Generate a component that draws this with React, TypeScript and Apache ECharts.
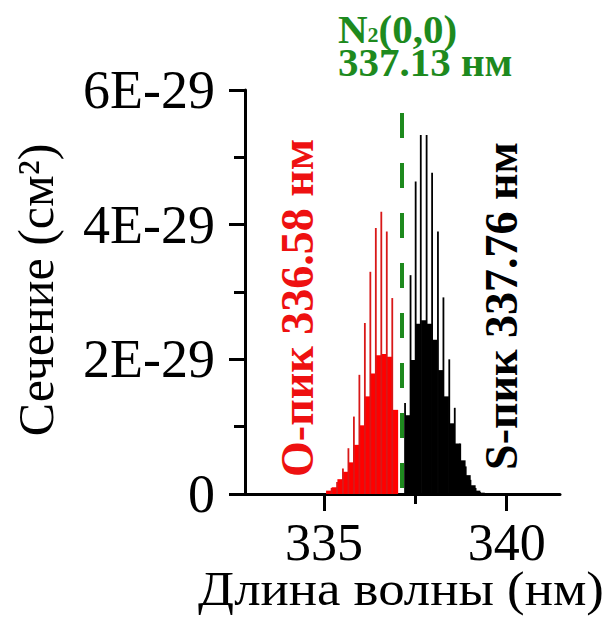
import React, { useEffect, useRef } from "react";
import * as echarts from "echarts";

// Rotational Raman lines of N2 around the 337.13 nm laser line.
// Intensities are in units of 1E-29 cm^2.

// O-branch: strong (even-J) lines
const O_STRONG_NM = [335.21, 335.36, 335.52, 335.67, 335.82, 335.97, 336.12, 336.27, 336.42, 336.57, 336.72, 336.87];
const O_STRONG_VAL = [0.09, 0.18, 0.38, 0.68, 1.15, 1.77, 2.54, 3.3, 3.95, 4.19, 3.9, 2.91];
// O-branch: weak (odd-J) lines
const O_WEAK_NM = [335.13, 335.285, 335.44, 335.595, 335.745, 335.895, 336.045, 336.195, 336.345, 336.495, 336.645, 336.795, 336.96];
const O_WEAK_VAL = [0.05, 0.1, 0.22, 0.33, 0.47, 0.73, 1.02, 1.45, 1.79, 2.06, 2.08, 2.04, 1.25];

// S-branch: strong lines
const S_STRONG_NM = [337.22, 337.37, 337.51, 337.65, 337.81, 337.96, 338.12, 338.27, 338.43, 338.58, 338.73, 338.88, 339.01, 339.15, 339.27];
const S_STRONG_VAL = [1.35, 3.25, 4.64, 5.33, 5.33, 4.77, 3.9, 2.92, 2.0, 1.28, 0.75, 0.41, 0.21, 0.09, 0.03];
// S-branch: weak lines
const S_WEAK_NM = [337.29, 337.44, 337.58, 337.73, 337.885, 338.04, 338.195, 338.35, 338.505, 338.655, 338.805, 338.945, 339.08, 339.21, 339.33];
const S_WEAK_VAL = [1.17, 1.99, 2.53, 2.58, 2.53, 2.29, 1.84, 1.45, 1.05, 0.75, 0.5, 0.28, 0.13, 0.05, 0.02];

// Laser line
const LASER_NM = 337.13;
const LASER_TOP = 5.66;

// Axes
const X_MIN = 332.84;
const X_MAX = 341.46;
const X_MAJOR = [335, 340];
const X_MINOR = [337.5];
const Y_MAX = 6;
const Y_STEP = 2;

const RED = "#ff0000";
const RED_LINE = "#d81818";
const GREEN = "#1e8a1e";
const SERIF = "'Liberation Serif', 'Times New Roman', serif";

function pairs(xs: number[], ys: number[], color: string) {
  return xs.map((x, i) => ({ value: [x, ys[i]], itemStyle: { color } }));
}

export default function App() {
  const ref = useRef<HTMLDivElement>(null);

  useEffect(() => {
    const chart = echarts.init(ref.current!, undefined, { renderer: "svg" });

    const option: any = {
      animation: false,
      backgroundColor: "#ffffff",
      grid: { left: 245, right: 45, top: 90, bottom: 129, containLabel: false },
      xAxis: [
        {
          type: "value",
          min: X_MIN,
          max: X_MAX,
          position: "bottom",
          axisLine: { show: true, onZero: false, lineStyle: { color: "#000", width: 3 } },
          axisTick: { show: true, customValues: X_MAJOR, length: 17, lineStyle: { color: "#000", width: 3 } },
          axisLabel: {
            show: true,
            customValues: X_MAJOR,
            margin: 22,
            fontSize: 52,
            fontFamily: SERIF,
            color: "#000",
          },
          splitLine: { show: false },
        },
        {
          type: "value",
          min: X_MIN,
          max: X_MAX,
          position: "bottom",
          axisLine: { show: false },
          axisTick: { show: true, customValues: X_MINOR, length: 10, lineStyle: { color: "#000", width: 3 } },
          axisLabel: { show: false },
          splitLine: { show: false },
        },
      ],
      yAxis: {
        type: "value",
        min: 0,
        max: Y_MAX,
        interval: Y_STEP,
        axisLine: { show: true, lineStyle: { color: "#000", width: 3 } },
        axisTick: { show: true, length: 16, lineStyle: { color: "#000", width: 3 } },
        minorTick: { show: true, splitNumber: 2, length: 11, lineStyle: { color: "#000", width: 3 } },
        axisLabel: {
          margin: 30,
          fontSize: 54,
          fontFamily: SERIF,
          color: "#000",
          formatter: (v: number) => (v === 0 ? "0" : `${Math.round(v)}E-29`),
        },
        splitLine: { show: false },
      },
      series: [
        {
          type: "bar",
          name: "weak",
          xAxisIndex: 1,
          barWidth: 5.2,
          z: 2,
          data: [...pairs(O_WEAK_NM, O_WEAK_VAL, RED), ...pairs(S_WEAK_NM, S_WEAK_VAL, "#000")],
        },
        {
          type: "bar",
          name: "strong",
          xAxisIndex: 0,
          barWidth: 1.8,
          z: 3,
          data: [...pairs(O_STRONG_NM, O_STRONG_VAL, RED_LINE), ...pairs(S_STRONG_NM, S_STRONG_VAL, "#000")],
          markLine: {
            silent: true,
            symbol: ["none", "none"],
            label: { show: false },
            lineStyle: { color: GREEN, width: 4, type: [25, 25] },
            data: [[{ coord: [LASER_NM, LASER_TOP] }, { coord: [LASER_NM, 0] }]],
          },
        },
      ],
      graphic: [
        {
          type: "text",
          x: 36,
          y: 290,
          rotation: Math.PI / 2,
          style: {
            text: "Сечение (см²)",
            fontSize: 50,
            fontFamily: SERIF,
            fill: "#000",
            align: "center",
            verticalAlign: "middle",
          },
        },
        {
          type: "text",
          x: 401,
          y: 589,
          scaleX: 1.1,
          style: {
            text: "Длина волны (нм)",
            fontSize: 48,
            fontFamily: SERIF,
            fill: "#000",
            align: "center",
            verticalAlign: "middle",
          },
        },
        {
          type: "text",
          x: 297,
          y: 308,
          rotation: Math.PI / 2,
          style: {
            text: "O-пик 336.58 нм",
            fontSize: 46,
            fontWeight: "bold",
            fontFamily: SERIF,
            fill: "#ee1111",
            align: "center",
            verticalAlign: "middle",
          },
        },
        {
          type: "text",
          x: 501,
          y: 306,
          rotation: Math.PI / 2,
          style: {
            text: "S-пик 337.76 нм",
            fontSize: 46,
            fontWeight: "bold",
            fontFamily: SERIF,
            fill: "#000",
            align: "center",
            verticalAlign: "middle",
          },
        },
        {
          // Laser line caption: N₂(0,0) over 337.13 нм
          type: "text",
          x: 338,
          y: 12,
          style: {
            text: "{b|N}{s|2}{b|(0,0)}\n{b|337.13 нм}",
            fontFamily: SERIF,
            fontWeight: "bold",
            fill: GREEN,
            align: "left",
            verticalAlign: "top",
            rich: {
              b: { fontSize: 41, lineHeight: 33, fontWeight: "bold", fontFamily: SERIF, color: GREEN },
              s: { fontSize: 22, lineHeight: 20, fontWeight: "bold", fontFamily: SERIF, color: GREEN, verticalAlign: "bottom" },
            },
          },
        },
      ],
    };

    chart.setOption(option);
    return () => chart.dispose();
  }, []);

  return (
    <div
      ref={ref}
      style={{ position: "fixed", left: 0, top: 0, width: 605, height: 623, background: "#fff" }}
    />
  );
}
